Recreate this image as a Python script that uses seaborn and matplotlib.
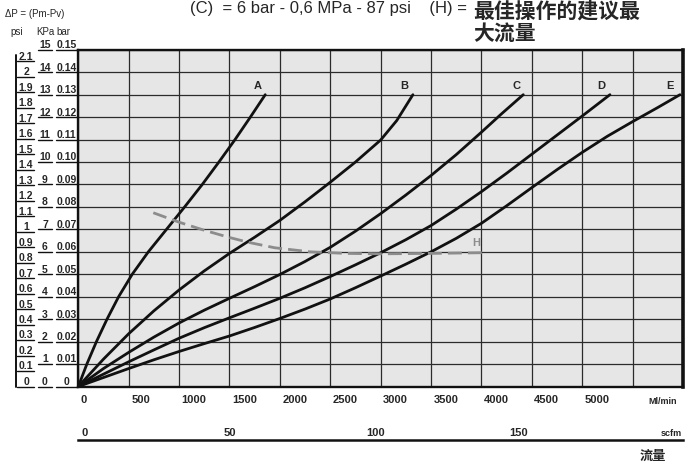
import matplotlib
matplotlib.use("Agg")
import matplotlib.pyplot as plt
import matplotlib.transforms as mtransforms
import seaborn as sns

# pressure drop (bar) against flow (Nl/min)
flow_A = [0, 85, 180, 285, 400, 535, 695, 875, 1055, 1230, 1395, 1555, 1707, 1855]
dp_A = [0, 0.01, 0.02, 0.03, 0.04, 0.05, 0.06, 0.07, 0.08, 0.09, 0.10, 0.11, 0.12, 0.13]
flow_B = [0, 250, 500, 750, 1000, 1250, 1500, 1750, 2000, 2250, 2500, 2750, 3000, 3160, 3320]
dp_B = [0, 0.0122, 0.0235, 0.0337, 0.0430, 0.0515, 0.0593, 0.0665, 0.0740, 0.0823, 0.0910,
        0.1000, 0.1098, 0.1185, 0.130]
flow_C = [0, 250, 500, 750, 1000, 1250, 1500, 1750, 2000, 2250, 2500, 2750, 3000, 3250,
          3500, 3750, 4000, 4200, 4415]
dp_C = [0, 0.0080, 0.0152, 0.0220, 0.0283, 0.0340, 0.0393, 0.0445, 0.0499, 0.0557, 0.0620,
        0.0692, 0.0770, 0.0853, 0.0940, 0.1033, 0.1133, 0.1215, 0.130]
flow_D = [0, 250, 500, 750, 1000, 1250, 1500, 1750, 2000, 2250, 2500, 2750, 3000, 3250,
          3500, 3750, 4000, 4250, 4500, 4750, 5000, 5275]
dp_D = [0, 0.0055, 0.0110, 0.0163, 0.0215, 0.0262, 0.0306, 0.0349, 0.0393, 0.0440, 0.0490,
        0.0542, 0.0596, 0.0654, 0.0717, 0.0790, 0.0868, 0.0950, 0.1035, 0.1120, 0.1205, 0.130]
flow_E = [0, 250, 500, 750, 1000, 1250, 1500, 1750, 2000, 2250, 2500, 2750, 3000, 3250,
          3500, 3750, 4000, 4250, 4500, 4750, 5000, 5250, 5500, 5750, 5970]
dp_E = [0, 0.0040, 0.0080, 0.0119, 0.0156, 0.0191, 0.0225, 0.0263, 0.0303, 0.0345, 0.0390,
        0.0440, 0.0492, 0.0545, 0.0600, 0.0660, 0.0727, 0.0805, 0.0886, 0.0966, 0.1043,
        0.1115, 0.1180, 0.1243, 0.130]

curve_names = ['A', 'B', 'C', 'D', 'E']
curve_label_flow = [1783, 3230, 4352, 5185, 5870]

# H = recommended max flow (dashed)
flow_H = [744, 1000, 1250, 1490, 1690, 1950, 2300, 2650, 3000, 3500, 4020]
dp_H = [0.0774, 0.0732, 0.0696, 0.0665, 0.0642, 0.0618, 0.0600, 0.0593, 0.0591, 0.0593, 0.0596]

flow_ticks = [0, 500, 1000, 1500, 2000, 2500, 3000, 3500, 4000, 4500, 5000, 5500]
flow_tick_labels = ['0', '500', '1000', '1500', '2000', '2500', '3000', '3500',
                    '4000', '4500', '5000', '']
scfm_ticks = [0, 50, 100, 150, 200]
scfm_tick_labels = ['0', '50', '100', '150', '']

bar_levels = [i / 100 for i in range(16)]
bar_labels = ['0', '0.01', '0.02', '0.03', '0.04', '0.05', '0.06', '0.07', '0.08',
              '0.09', '0.10', '0.11', '0.12', '0.13', '0.14', '0.15']
kpa_labels = [str(i) for i in range(16)]
psi_levels = [i / 10 for i in range(22)]
psi_labels = ['0', '0.1', '0.2', '0.3', '0.4', '0.5', '0.6', '0.7', '0.8', '0.9', '1',
              '1.1', '1.2', '1.3', '1.4', '1.5', '1.6', '1.7', '1.8', '1.9', '2', '2.1']
PSI_TO_BAR = 0.0689476
NLMIN_PER_SCFM = 28.317

sns.set_style("white")
plt.rcParams['font.family'] = ['Liberation Sans', 'DejaVu Sans']
CJK = ['Noto Sans CJK SC', 'DejaVu Sans']

fig = plt.figure(figsize=(6.95, 4.68), dpi=100)
W, H = 695, 468
left, right, top, bottom = 78.3, 683, 49.8, 386.5
ax = fig.add_axes([left / W, 1 - bottom / H, (right - left) / W, (bottom - top) / H])
ax.set_facecolor('#e6e6e6')

for name, fx_, dy in zip(curve_names, [flow_A, flow_B, flow_C, flow_D, flow_E],
                         [dp_A, dp_B, dp_C, dp_D, dp_E]):
    sns.lineplot(x=fx_, y=dy, ax=ax, color='#111111', lw=2, sort=False, estimator=None)
for name, lx in zip(curve_names, curve_label_flow):
    ax.text(lx, 0.1338, name, ha='center', va='center', fontsize=8, fontweight='bold')

sns.lineplot(x=flow_H, y=dp_H, ax=ax, color='#8c8c8c', lw=2, sort=False, estimator=None,
             linestyle=(0, (5, 2.2)))
ax.text(3950, 0.064, 'H', ha='center', va='center', fontsize=8, fontweight='bold',
        color='#8c8c8c')

ax.set_xlim(0, 6000)
ax.set_ylim(0, 0.15)
ax.set_xticks(flow_ticks)
ax.set_yticks(bar_levels)
ax.set_xticklabels([])
ax.set_yticklabels([])
ax.tick_params(axis='x', direction='out', length=12, width=1, color='#111111')
ax.tick_params(axis='y', length=0)
ax.grid(True, color='#2b2b2b', lw=0.9)
ax.set_xlabel('')
ax.set_ylabel('')
for side in ['left', 'bottom', 'top']:
    ax.spines[side].set_color('#111111')
    ax.spines[side].set_linewidth(1.7)
ax.spines['right'].set_color('#111111')
ax.spines['right'].set_linewidth(2.6)

for v, lab in zip(flow_ticks, flow_tick_labels):
    ax.text(v + 25, -0.0060, lab, ha='left', va='center', fontsize=8, fontweight='bold',
            clip_on=False)
fig.text(648 / W, 1 - 402 / H, 'Ml/min', ha='left', va='center', fontsize=6.5,
         fontweight='bold')

# left-hand pressure scales: psi, KPa, bar
bt = mtransforms.blended_transform_factory(ax.transAxes, ax.transData)
def fx(px):
    return (px - left) / (right - left)

for v, lab in zip(bar_levels, bar_labels):
    ax.text(fx(66.5), v + 0.0007, lab, transform=bt, ha='center', va='baseline',
            fontsize=7.5, fontweight='bold')
    ax.plot([fx(56), fx(77)], [v, v], transform=bt, color='#111111', lw=1, clip_on=False)
for v, lab in zip(bar_levels, kpa_labels):
    ax.text(fx(45), v + 0.0007, lab, transform=bt, ha='center', va='baseline',
            fontsize=7.5, fontweight='bold')
    ax.plot([fx(38), fx(52)], [v, v], transform=bt, color='#111111', lw=1, clip_on=False)
for p, lab in zip(psi_levels, psi_labels):
    v = p * PSI_TO_BAR
    ax.text(fx(26), v + 0.0007, lab, transform=bt, ha='center', va='baseline',
            fontsize=7.5, fontweight='bold')
    ax.plot([fx(17), fx(34)], [v, v], transform=bt, color='#111111', lw=1, clip_on=False)
ax.plot([fx(15.5), fx(15.5)], [0, max(psi_levels) * PSI_TO_BAR + 0.003], transform=bt,
        color='#111111', lw=1.4, clip_on=False)

fig.text(5 / W, 1 - 14 / H, '\u0394P = (Pm-Pv)', ha='left', va='center', fontsize=7)
fig.text(10 / W, 1 - 32 / H, 'psi', ha='left', va='center', fontsize=7)
fig.text(36 / W, 1 - 32 / H, 'KPa', ha='left', va='center', fontsize=7)
fig.text(56 / W, 1 - 32 / H, 'bar', ha='left', va='center', fontsize=7)

# second flow scale in scfm
ax2 = fig.add_axes([left / W, 1 - 440 / H, (right - left) / W, 0.0001])
ax2.set_xlim(0, 6000 / NLMIN_PER_SCFM)
ax2.set_xticks(scfm_ticks)
ax2.set_xticklabels([])
ax2.set_yticks([])
ax2.tick_params(axis='x', direction='in', length=11, width=1, color='#111111')
for side in ['left', 'right', 'top']:
    ax2.spines[side].set_visible(False)
ax2.spines['bottom'].set_linewidth(1.8)
ax2.spines['bottom'].set_color('#111111')
st = mtransforms.blended_transform_factory(ax2.transData, fig.transFigure)
for v, lab in zip(scfm_ticks, scfm_tick_labels):
    ax2.text(v + 1.0, 1 - 433 / H, lab, transform=st, ha='left', va='center',
             fontsize=8, fontweight='bold')
fig.text(661 / W, 1 - 433 / H, 'scfm', ha='left', va='center', fontsize=6.5, fontweight='bold')
fig.text(640 / W, 1 - 456 / H, '流量', ha='left', va='center', fontsize=9.5,
         fontweight='bold', family=CJK)

# header
fig.text(190 / W, 1 - 8 / H, '(C)  = 6 bar - 0,6 MPa - 87 psi    (H) = ', ha='left',
         va='center', fontsize=12)
fig.text(473 / W, 1 - 11 / H, '最佳操作的建议最', ha='left', va='center', fontsize=15,
         fontweight='bold', family=CJK)
fig.text(473 / W, 1 - 33 / H, '大流量', ha='left', va='center', fontsize=15,
         fontweight='bold', family=CJK)

fig.savefig('out.png', dpi=100)
